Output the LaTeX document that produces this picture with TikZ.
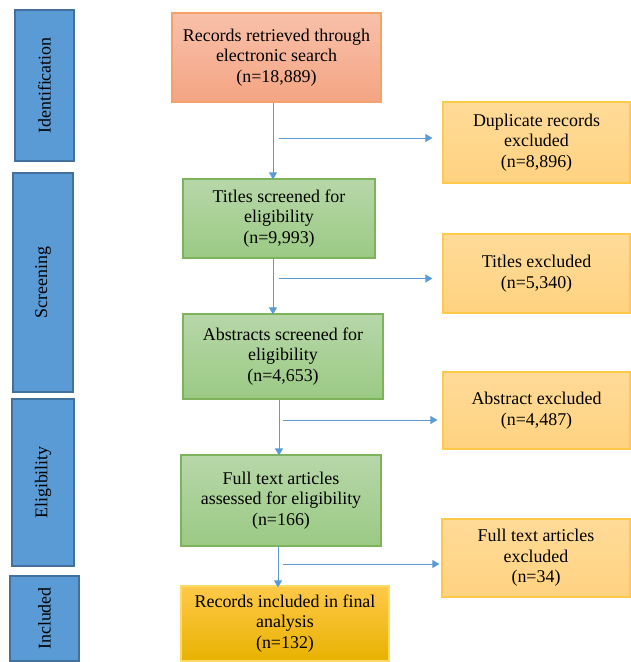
\documentclass[tikz,border=0pt]{standalone}
\usepackage{fontspec}
\setmainfont{Liberation Serif}
\usetikzlibrary{arrows.meta,calc}
\definecolor{stageblue}{HTML}{5B9BD5}
\definecolor{stageedge}{HTML}{41719C}
\definecolor{salmontop}{HTML}{F8C1AA}
\definecolor{salmonbot}{HTML}{F4A482}
\definecolor{salmonedge}{HTML}{F4A26A}
\definecolor{greentop}{HTML}{B7D7A9}
\definecolor{greenbot}{HTML}{9BCA84}
\definecolor{greenedge}{HTML}{7DB35A}
\definecolor{exctop}{HTML}{FFDB98}
\definecolor{excbot}{HTML}{FFD280}
\definecolor{excedge}{HTML}{FFC94A}
\definecolor{goldtop}{HTML}{FFC94A}
\definecolor{goldbot}{HTML}{E8B200}
\definecolor{goldedge}{HTML}{FFD966}
\definecolor{arrowblue}{HTML}{5B9BD5}
\begin{document}
\begin{tikzpicture}[x=1bp,y=-1bp,
  base/.style={draw, line width=1.2bp, inner sep=0pt, align=center,
    font=\fontsize{18}{20.5}\selectfont},
  stage/.style={base, fill=stageblue, draw=stageedge, rotate=90},
  srcbox/.style={base, draw=salmonedge, top color=salmontop, bottom color=salmonbot},
  greenbox/.style={base, draw=greenedge, top color=greentop, bottom color=greenbot},
  excbox/.style={base, draw=excedge, top color=exctop, bottom color=excbot,
    minimum width=187bp},
  finalbox/.style={base, draw=goldedge, top color=goldtop, bottom color=goldbot},
  arr/.style={draw=arrowblue, line width=1bp, -{Triangle[width=8bp,length=7bp]}}
]
\useasboundingbox (0,0) rectangle (631,662);

% stage boxes
\node[stage, minimum width=151bp, minimum height=59bp] (ident) at (44.5,85.5) {Identification};
\node[stage, minimum width=219bp, minimum height=60bp] (screen) at (43,282.5) {Screening};
\node[stage, minimum width=167bp, minimum height=62bp] (elig) at (43,482.5) {Eligibility};
\node[stage, minimum width=85bp, minimum height=69bp] (incl) at (44.5,618.5) {Included};

% main column
\node[srcbox, minimum width=209bp, minimum height=89bp] (rec) at (276.5,57.5)
  {Records retrieved through\\electronic search\\(n=18,889)};
\node[greenbox, minimum width=192bp, minimum height=79bp] (titles) at (279,218.5)
  {Titles screened for\\eligibility\\(n=9,993)};
\node[greenbox, minimum width=200bp, minimum height=85bp] (abs) at (283,356.5)
  {Abstracts screened for\\eligibility\\(n=4,653)};
\node[greenbox, minimum width=200bp, minimum height=91bp] (full) at (281,500.5)
  {Full text articles\\assessed for eligibility\\(n=166)};
\node[finalbox, minimum width=208bp, minimum height=75bp] (final) at (285,623.5)
  {Records included in final\\analysis\\(n=132)};

% exclusion column
\node[excbox, minimum height=81bp] (dup) at (536.5,142.5)
  {Duplicate records\\excluded\\(n=8,896)};
\node[excbox, minimum height=79bp] (tex) at (536.5,273.5)
  {Titles excluded\\(n=5,340)};
\node[excbox, minimum height=77bp] (aex) at (536.5,410.5)
  {Abstract excluded\\(n=4,487)};
\node[excbox, minimum width=188bp, minimum height=78bp] (fex) at (536,558)
  {Full text articles\\excluded\\(n=34)};

% vertical connectors
\coordinate (va) at (273,0);
\coordinate (vb) at (279,0);
\coordinate (vc) at (278,0);
\draw[arr] (rec.south -| va) -- ([yshift=-1bp]titles.north -| va);
\draw[arr] (titles.south -| va) -- ([yshift=-1bp]abs.north -| va);
\draw[arr] (abs.south -| vb) -- ([yshift=-1bp]full.north -| vb);
\draw[arr] (full.south -| vc) -- ([yshift=-2bp]final.north -| vc);

% horizontal connectors
\coordinate (h1) at (279,138);
\coordinate (h2) at (279,278.5);
\coordinate (h3) at (283,420);
\coordinate (h4) at (283,564);
\draw[arr] (h1) -- ([xshift=-10bp]dup.west |- h1);
\draw[arr] (h2) -- ([xshift=-10bp]tex.west |- h2);
\draw[arr] (h3) -- ([xshift=-5bp]aex.west |- h3);
\draw[arr] (h4) -- ([xshift=-2bp]fex.west |- h4);
\end{tikzpicture}
\end{document}
